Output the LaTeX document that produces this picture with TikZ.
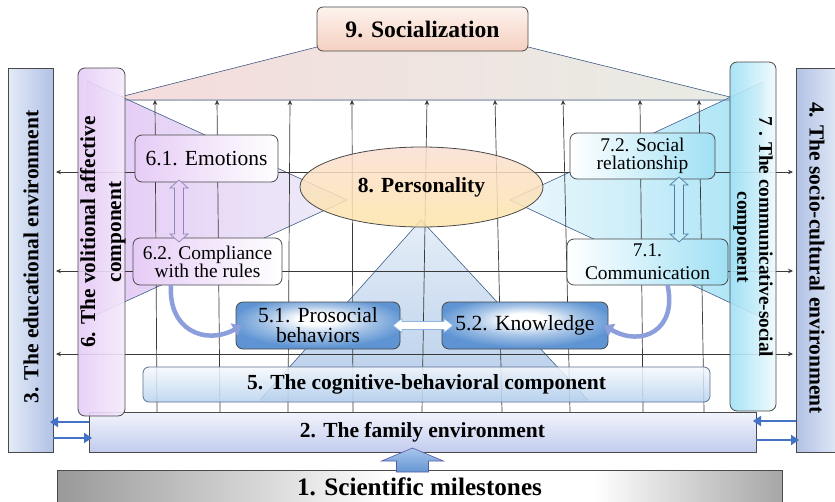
\documentclass[tikz,border=0pt]{standalone}
\usepackage{fontspec}
\setmainfont{Liberation Serif}
\usetikzlibrary{arrows.meta,calc,shapes.geometric}

\definecolor{edgeSteel}{HTML}{4E6A94}
\definecolor{gridInk}{HTML}{3A3A3A}
\definecolor{boxInk}{HTML}{4A4A4A}
\definecolor{socTop}{HTML}{FDF3EE}
\definecolor{socBot}{HTML}{F5D0C0}
\definecolor{trapL}{HTML}{F5DCDC}
\definecolor{trapR}{HTML}{E8ECE4}
\definecolor{envLight}{HTML}{E4EBF7}
\definecolor{envDark}{HTML}{B1C2E6}
\definecolor{volDark}{HTML}{E6CCF6}
\definecolor{volLight}{HTML}{F4EBFB}
\definecolor{lavTriL}{HTML}{E4C9F5}
\definecolor{lavTriR}{HTML}{EEEEF9}
\definecolor{comDark}{HTML}{A0E0F5}
\definecolor{comLight}{HTML}{EFFAFD}
\definecolor{cyTriL}{HTML}{EEF8FC}
\definecolor{cyTriR}{HTML}{A8E3F6}
\definecolor{blTriT}{HTML}{E6EEF8}
\definecolor{blTriB}{HTML}{B6CEEA}
\definecolor{persTop}{HTML}{F9DED2}
\definecolor{persBot}{HTML}{FDE5A8}
\definecolor{boxBlue}{HTML}{5E94D3}
\definecolor{cogTop}{HTML}{F6F9FD}
\definecolor{cogBot}{HTML}{B7D2EE}
\definecolor{famTop}{HTML}{F2F4FC}
\definecolor{famBot}{HTML}{C2CCEE}
\definecolor{barGreyL}{HTML}{999999}
\definecolor{barGreyR}{HTML}{A6A6A6}
\definecolor{linkBlue}{HTML}{4472C4}
\definecolor{curveBlue}{HTML}{8C9EDC}
\definecolor{upTop}{HTML}{A9C6EC}
\definecolor{upBot}{HTML}{6496D4}
\definecolor{lavArrow}{HTML}{E8D3F6}
\definecolor{lavArrowInk}{HTML}{8F86B8}
\definecolor{cyArrow}{HTML}{C4ECF8}
\definecolor{cyArrowInk}{HTML}{4A7FA8}

% glowing blue fill of the two sub-component boxes of 5
\pgfdeclareradialshading{glowbox}{\pgfpoint{0bp}{8bp}}{color(0bp)=(white); color(6bp)=(white); color(16bp)=(boxBlue!55); color(27bp)=(boxBlue); color(50bp)=(boxBlue)}
% grey-white-grey bar at the foot
\pgfdeclarehorizontalshading{greybar}{100bp}{color(0bp)=(barGreyL); color(25bp)=(barGreyL); color(48bp)=(white); color(62bp)=(white); color(75bp)=(barGreyR); color(100bp)=(barGreyR)}

% hollow two-way block arrows between two anchor points
\newcommand{\twowayV}[3]{%
  \path[#1] let \p1=(#2), \p2=(#3) in
    (\x1,\y1) -- (\x1+9pt,\y1-8pt) -- (\x1+4.5pt,\y1-8pt) -- (\x2+4.5pt,\y2+8pt)
    -- (\x2+9pt,\y2+8pt) -- (\x2,\y2) -- (\x2-9pt,\y2+8pt) -- (\x2-4.5pt,\y2+8pt)
    -- (\x1-4.5pt,\y1-8pt) -- (\x1-9pt,\y1-8pt) -- cycle;}
\newcommand{\twowayH}[3]{%
  \path[#1] let \p1=(#2), \p2=(#3) in
    (\x1,\y1) -- (\x1+9pt,\y1+7pt) -- (\x1+9pt,\y1+4pt) -- (\x2-9pt,\y2+4pt)
    -- (\x2-9pt,\y2+7pt) -- (\x2,\y2) -- (\x2-9pt,\y2-7pt) -- (\x2-9pt,\y2-4pt)
    -- (\x1+9pt,\y1-4pt) -- (\x1+9pt,\y1-7pt) -- cycle;}

\begin{document}
\begin{tikzpicture}[x=1pt,y=-1pt,
  every node/.style={outer sep=0pt},
  box/.style={draw=boxInk, line width=0.8pt, anchor=north west, inner sep=0pt, align=center},
  fB/.style={font=\fontsize{21.5}{24}\selectfont\bfseries},
  fR/.style={font=\fontsize{21.6}{20}\selectfont},
  fS/.style={font=\fontsize{19.4}{18}\selectfont},
  edge/.style={draw=edgeSteel, line width=0.6pt},
  gridline/.style={draw=gridInk, line width=0.7pt},
  upgrid/.style={gridline, -{Stealth[length=5pt,width=4.5pt]}},
  bothgrid/.style={gridline, {Stealth[length=5pt,width=4.5pt]}-{Stealth[length=5pt,width=4.5pt]}, shorten <=3pt, shorten >=3pt},
  bluelink/.style={draw=linkBlue, line width=2.6pt, -{Triangle[length=8pt,width=10pt]}, shorten >=-3pt},
  curvearrow/.style={draw=curveBlue, line width=4.5pt, -{Triangle[length=9pt,width=14pt]}},
]
\useasboundingbox (0,0) rectangle (835,501);
\clip (0,0) rectangle (835,501);

% fan under the socialization box
\fill[left color=trapL, right color=trapR] (317,47) -- (528,47) -- (730,97) -- (730,100) -- (125,100) -- (120,97) -- cycle;

% fans around the personality ellipse
\fill[left color=lavTriL, right color=lavTriR] (87,81) -- (347,200) -- (85,320) -- cycle;
\fill[left color=cyTriL, right color=cyTriR] (763,82) -- (510,200) -- (763,318) -- cycle;
\fill[top color=blTriT, bottom color=blTriB] (421,220) -- (588,400) -- (260,400) -- cycle;
\draw[edge] (120,97) -- (317,47) (528,47) -- (730,97) (125,100) -- (730,100);
\draw[edge] (87,81) -- (347,200) -- (85,320) (763,82) -- (510,200) -- (763,318)
            (260,400) -- (421,220) -- (588,400);

% environments
\node[box, left color=envLight, right color=envDark, minimum width=45pt, minimum height=384pt] (box3) at (8,68) {};
\node[box, left color=envDark, right color=envLight, minimum width=45pt, minimum height=384pt] (box4) at (796,68) {};
\node[box, top color=famTop, bottom color=famBot, minimum width=667pt, minimum height=40pt, fB] (fam) at (89,412) {2. The family environment};

% grid of influences
\foreach \xt/\xb in {155/157,217/220,290/288,352/353,427/422,495/502,563/570,640/643,699/704}
  \draw[upgrid] (fam.north -| \xb,0) -- (\xt,100);
\foreach \yy in {172,271,354}
  \draw[bothgrid] (box3.east |- 0,\yy) -- (box4.west |- 0,\yy);

% side components
\node[box, rounded corners=7pt, left color=volDark, right color=volLight, fill opacity=0.9, minimum width=47pt, minimum height=348pt] (box6) at (78,68) {};
\node[box, rounded corners=7pt, left color=comDark, right color=comLight, fill opacity=0.9, minimum width=46pt, minimum height=349pt] (box7) at (730,62) {};

% socialization and personality
\node[box, rounded corners=6pt, top color=socTop, bottom color=socBot, minimum width=211pt, minimum height=44pt,
      font=\fontsize{23.6}{26}\selectfont\bfseries] (soc) at (317,7) {9. Socialization};
\node[ellipse, draw=boxInk, line width=0.8pt, top color=persTop, bottom color=persBot, fill opacity=0.85, text opacity=1,
      minimum width=243pt, minimum height=80pt, inner sep=0pt, fB] (pers) at (421.5,187) {8. Personality};

% sub-components
\node[box, rounded corners=7pt, left color=volDark, right color=white, minimum width=143pt, minimum height=47pt,
      font=\fontsize{21.5}{24}\selectfont] (e61) at (135,135) {6.1. Emotions};
\node[box, rounded corners=7pt, left color=volDark, right color=white, minimum width=149pt, minimum height=47pt, fS] (e62) at (133,238) {6.2. Compliance\\with the rules};
\node[box, rounded corners=7pt, left color=white, right color=comDark, minimum width=145pt, minimum height=46pt, fS] (s72) at (570,133) {7.2. Social\\relationship};
\node[box, rounded corners=7pt, left color=white, right color=comDark, minimum width=161pt, minimum height=46pt,
      font=\fontsize{19.4}{23}\selectfont] (s71) at (567,239) {7.1.\\Communication};
\node[box, rounded corners=7pt, shading=glowbox, minimum width=164pt, minimum height=47pt, fR] (p51) at (236,302) {5.1. Prosocial\\behaviors};
\node[box, rounded corners=7pt, shading=glowbox, minimum width=166pt, minimum height=47pt, fR] (p52) at (442,302) {5.2. Knowledge};
\node[box, draw=edgeSteel!80!gray, rounded corners=6pt, top color=cogTop, bottom color=cogBot, fill opacity=0.85, text opacity=1,
      minimum width=567pt, minimum height=35pt, fB] (cog) at (143,367) {5. The cognitive-behavioral component};

% base
\node[box, shading=greybar, minimum width=725pt, minimum height=34pt,
      font=\fontsize{25.2}{28}\selectfont\bfseries] (sci) at (57,470) {1. Scientific milestones};

% vertical titles
\node[fB, rotate=90] (t3) at (31,257) {3. The educational environment};
\node[fB, rotate=-90] (t4) at (817,258) {4. The socio-cultural environment};
\node[font=\fontsize{21.3}{26}\selectfont\bfseries, rotate=90, align=center] (t6) at (103,232) {6. The volitional affective\\component};
\node[font=\fontsize{19.3}{22}\selectfont\bfseries, rotate=-90, align=center] (t7) at (753,237) {7 . The communicative-social\\component};

% two-way links between sub-components
\twowayV{fill=lavArrow, draw=lavArrowInk, line width=0.7pt}{[xshift=-27.5pt,yshift=2pt]e61.south}{[xshift=-28.5pt,yshift=-4pt]e62.north}
\twowayV{fill=cyArrow, draw=cyArrowInk, line width=0.7pt}{[xshift=36.5pt,yshift=2pt]s72.south}{[xshift=31.5pt,yshift=-3pt]s71.north}
\twowayH{fill=white, draw=boxBlue!70, line width=0.7pt}{[xshift=-7pt]p51.east}{[xshift=11pt]p52.west}

% curved links into the cognitive-behavioral sub-components
\draw[curvearrow] ([xshift=-36.5pt]e62.south) .. controls +(-3,45) and +(-37,20) .. ([xshift=6pt]p51.west);
\draw[curvearrow] ([xshift=20pt]s71.south) .. controls +(10,45) and +(38,22) .. ([xshift=-4pt]p52.east);

% exchanges between the family and the outer environments
\coordinate (fwU) at ([yshift=10pt]fam.west);
\coordinate (fwD) at ([yshift=-6pt]fam.west);
\coordinate (feU) at ([yshift=11pt]fam.east);
\coordinate (feD) at ([yshift=-8pt]fam.east);
\draw[bluelink] (fwU) -- (fwU -| box3.east);
\draw[bluelink] (fwD -| box3.east) -- (fwD);
\draw[bluelink] (feU -| box4.west) -- (feU);
\draw[bluelink] (feD) -- (feD -| box4.west);

% block arrow from the base into the family environment
\path[top color=upTop, bottom color=upBot, draw=gray!70!blue, line width=0.6pt]
  let \p1=([xshift=-10pt]fam.south), \p2=([xshift=-7pt]sci.north) in
  (\x1,\y1+4pt) -- (\x1+31pt,\y1-9pt) -- (\x1+16pt,\y1-9pt) -- (\x1+16pt,\y2-2pt)
  -- (\x1-16pt,\y2-2pt) -- (\x1-16pt,\y1-9pt) -- (\x1-31pt,\y1-9pt) -- cycle;
\end{tikzpicture}
\end{document}
